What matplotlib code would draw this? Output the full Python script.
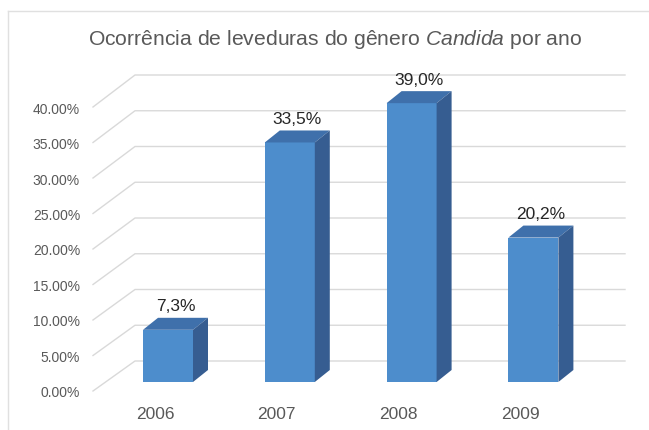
"""
Ocorrencia de leveduras do genero Candida por ano - 3D style column chart.
"""

import numpy as np
import matplotlib
matplotlib.use('Agg')
import matplotlib.pyplot as plt
from matplotlib.patches import Polygon
from matplotlib.lines import Line2D

plt.rcParams['font.family'] = ['Liberation Sans', 'DejaVu Sans']
plt.rcParams['mathtext.fontset'] = 'custom'
plt.rcParams['mathtext.it'] = 'Liberation Sans:italic'
plt.rcParams['mathtext.rm'] = 'Liberation Sans'

# data
years = ['2006', '2007', '2008', '2009']
values = [7.3, 33.5, 39.0, 20.2]
value_labels = ['7,3%', '33,5%', '39,0%', '20,2%']
grid_levels = [0, 5, 10, 15, 20, 25, 30, 35, 40]
tick_labels = ['0.00%', '5.00%', '10.00%', '15.00%', '20.00%',
               '25.00%', '30.00%', '35.00%', '40.00%']

# pixel layout of the figure (649 x 431)
W, H = 649, 431
px_cat = 121.8      # px between bars
px_pct = 7.15       # px per percent
x0_px = 168         # centre of first bar
base_px = 383       # front baseline

def px_x(p):
    return (p - x0_px) / px_cat

def px_y(p):
    return (base_px - p) / px_pct

bar_w = 50 / px_cat
dx = 15 / px_cat
dy = 12 / px_pct

front_col = '#4d8dcc'
top_col = '#3f70ab'
side_col = '#365d91'
grid_col = '#d9d9d9'
txt_gray = '#595959'

fig = plt.figure(figsize=(W / 100, H / 100), dpi=100)
ax = fig.add_axes([0, 0, 1, 1])
ax.set_xlim(px_x(0), px_x(W))
ax.set_ylim(px_y(H), px_y(0))
ax.axis('off')

# chart frame (only top and left edges visible)
fig.add_artist(Line2D([8 / W, 1], [1 - 12 / H, 1 - 12 / H], color='#e0e0e0', lw=1.0))
fig.add_artist(Line2D([8 / W, 8 / W], [0, 1 - 12 / H], color='#e0e0e0', lw=1.0))

# gridlines: diagonal on the side wall, horizontal on the back wall
back_off = 21 / px_pct
for g, lab in zip(grid_levels, tick_labels):
    ax.plot([px_x(93), px_x(135), px_x(625)],
            [px_y(392 - g * 7.1), g + back_off, g + back_off],
            color=grid_col, lw=1.0, zorder=1)
    ax.text(px_x(80), px_y(393 - g * 7.08), lab, ha='right', va='center',
            fontsize=10, color=txt_gray)

# bars
for i, (v, lab, yr) in enumerate(zip(values, value_labels, years)):
    xl = i - bar_w / 2
    xr = i + bar_w / 2
    front = Polygon([(xl, 0), (xr, 0), (xr, v), (xl, v)], closed=True,
                    facecolor=front_col, edgecolor='none', zorder=3)
    top = Polygon([(xl, v), (xr, v), (xr + dx, v + dy), (xl + dx, v + dy)],
                  closed=True, facecolor=top_col, edgecolor='none', zorder=3)
    side = Polygon([(xr, 0), (xr + dx, dy), (xr + dx, v + dy), (xr, v)],
                   closed=True, facecolor=side_col, edgecolor='none', zorder=3)
    for p in (front, top, side):
        ax.add_patch(p)
    ax.text(i + dx / 2, v + dy + 12 / px_pct, lab, ha='center', va='center',
            fontsize=12.5, color='#262626', zorder=4)
    ax.text(i - 13 / px_cat, px_y(415), yr, ha='center', va='center',
            fontsize=12.5, color=txt_gray)

# title
ax.text(px_x(335), px_y(45),
        'Ocorrência de leveduras do gênero $\\it{Candida}$ por ano',
        ha='center', va='baseline', fontsize=15.2, color=txt_gray)

fig.savefig('out.png', dpi=100)
